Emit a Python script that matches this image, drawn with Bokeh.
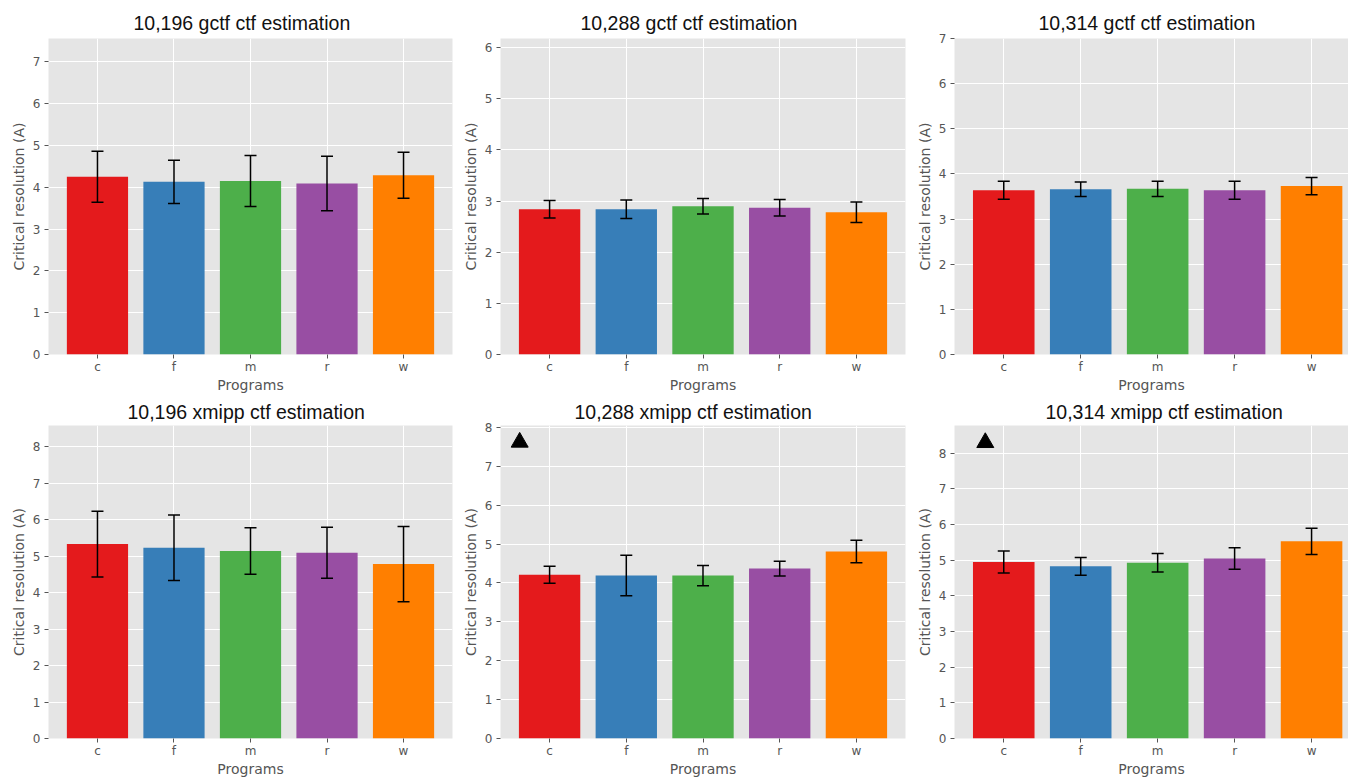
from bokeh.plotting import figure
from bokeh.models import ColumnDataSource, Whisker, TeeHead, FixedTicker, Range1d
from bokeh.layouts import column, row
from bokeh.embed import file_html
from bokeh.resources import INLINE

programs = ["c", "f", "m", "r", "w"]
colors = ["#E41A1C", "#377EB8", "#4DAF4A", "#984EA3", "#FF7F00"]

titles = [
    "10,196 gctf ctf estimation", "10,288 gctf ctf estimation", "10,314 gctf ctf estimation",
    "10,196 xmipp ctf estimation", "10,288 xmipp ctf estimation", "10,314 xmipp ctf estimation",
]

mean_10196_gctf = [4.25, 4.13, 4.15, 4.09, 4.29]
err_10196_gctf = [0.61, 0.52, 0.61, 0.65, 0.55]
mean_10288_gctf = [2.84, 2.84, 2.90, 2.87, 2.78]
err_10288_gctf = [0.17, 0.18, 0.15, 0.16, 0.20]
mean_10314_gctf = [3.64, 3.66, 3.67, 3.64, 3.73]
err_10314_gctf = [0.20, 0.16, 0.17, 0.20, 0.19]
mean_10196_xmipp = [5.33, 5.23, 5.14, 5.09, 4.78]
err_10196_xmipp = [0.90, 0.90, 0.64, 0.70, 1.03]
mean_10288_xmipp = [4.21, 4.19, 4.19, 4.37, 4.81]
err_10288_xmipp = [0.22, 0.52, 0.26, 0.19, 0.29]
mean_10314_xmipp = [4.95, 4.83, 4.93, 5.05, 5.53]
err_10314_xmipp = [0.31, 0.25, 0.26, 0.30, 0.37]

y_max = [7.56, 6.18, 7.0, 8.58, 8.05, 8.78]
y_tick_top = [7, 6, 7, 8, 8, 8]
marker_x = [None, None, None, None, -0.39, -0.24]
marker_y = [None, None, None, None, 7.62, 8.30]

means = [mean_10196_gctf, mean_10288_gctf, mean_10314_gctf,
         mean_10196_xmipp, mean_10288_xmipp, mean_10314_xmipp]
errs = [err_10196_gctf, err_10288_gctf, err_10314_gctf,
        err_10196_xmipp, err_10288_xmipp, err_10314_xmipp]

# layout (pixels)
col_frame_w = [404, 405, 394]
col_left = [48, 42, 42]
col_right = [6, 7, 0]
col_xend = [4.64, 4.64, 4.48]
title_offset = [85, 80, 84, 79, 74, 91]
row_frame_h = [316, 313]
row_top = [38, 29]
row_bottom = [38, 38]
row_title_standoff = [10, 6]

TICK = "#555555"


def make_panel(i):
    r, c = divmod(i, 3)
    x = list(range(len(programs)))
    upper = [m + e for m, e in zip(means[i], errs[i])]
    lower = [m - e for m, e in zip(means[i], errs[i])]
    src = ColumnDataSource(dict(x=x, top=means[i], upper=upper, lower=lower,
                                color=colors, name=programs))
    p = figure(frame_width=col_frame_w[c], frame_height=row_frame_h[r],
               x_range=Range1d(-0.64, col_xend[c]), y_range=Range1d(0, y_max[i]),
               output_backend="svg", toolbar_location=None,
               min_border_left=col_left[c], min_border_right=col_right[c],
               min_border_top=row_top[r], min_border_bottom=row_bottom[r])
    p.background_fill_color = "#E5E5E5"
    p.border_fill_color = "white"
    p.outline_line_color = None

    p.vbar(x="x", top="top", width=0.8, bottom=0, source=src, fill_color="color",
           line_color=None)
    w = Whisker(base="x", upper="upper", lower="lower", source=src, level="overlay",
                line_color="black", line_width=1.5,
                upper_head=TeeHead(size=12, line_color="black", line_width=1.5),
                lower_head=TeeHead(size=12, line_color="black", line_width=1.5))
    p.add_layout(w)

    if marker_x[i] is not None:
        p.scatter([marker_x[i]], [marker_y[i]], marker="triangle", size=17,
                  fill_color="black", line_color="black")

    p.title.text = titles[i]
    p.title.text_font = "Liberation Sans"
    p.title.text_font_size = "19.5px"
    p.title.text_font_style = "normal"
    p.title.text_color = "#111111"
    p.title.align = "left"
    p.title.offset = title_offset[i]
    p.title.standoff = row_title_standoff[r]

    p.xaxis.ticker = FixedTicker(ticks=x)
    p.xaxis.major_label_overrides = {k: v for k, v in zip(x, programs)}
    p.yaxis.ticker = FixedTicker(ticks=list(range(0, y_tick_top[i] + 1)))
    p.xgrid.ticker = FixedTicker(ticks=x)

    p.grid.grid_line_color = "white"
    p.grid.grid_line_width = 1
    p.axis.axis_line_color = None
    p.axis.major_tick_line_color = TICK
    p.axis.major_tick_out = 4
    p.axis.major_tick_in = 0
    p.axis.minor_tick_line_color = None
    p.axis.major_label_text_font = "DejaVu Sans"
    p.axis.major_label_text_font_size = "12px"
    p.axis.major_label_text_color = TICK
    p.axis.axis_label_text_font = "DejaVu Sans"
    p.axis.axis_label_text_font_size = "14px"
    p.axis.axis_label_text_font_style = "normal"
    p.axis.axis_label_text_color = TICK
    p.xaxis.axis_label = "Programs"
    p.yaxis.axis_label = "Critical resolution (A)"
    p.xaxis.major_label_standoff = 1
    p.xaxis.axis_label_standoff = 0
    p.yaxis.major_label_standoff = 4
    p.yaxis.axis_label_standoff = 3
    return p


panels = [make_panel(i) for i in range(6)]
layout = column(row(*panels[:3]), row(*panels[3:]))

open("out.html", "w").write(file_html(layout, INLINE))
